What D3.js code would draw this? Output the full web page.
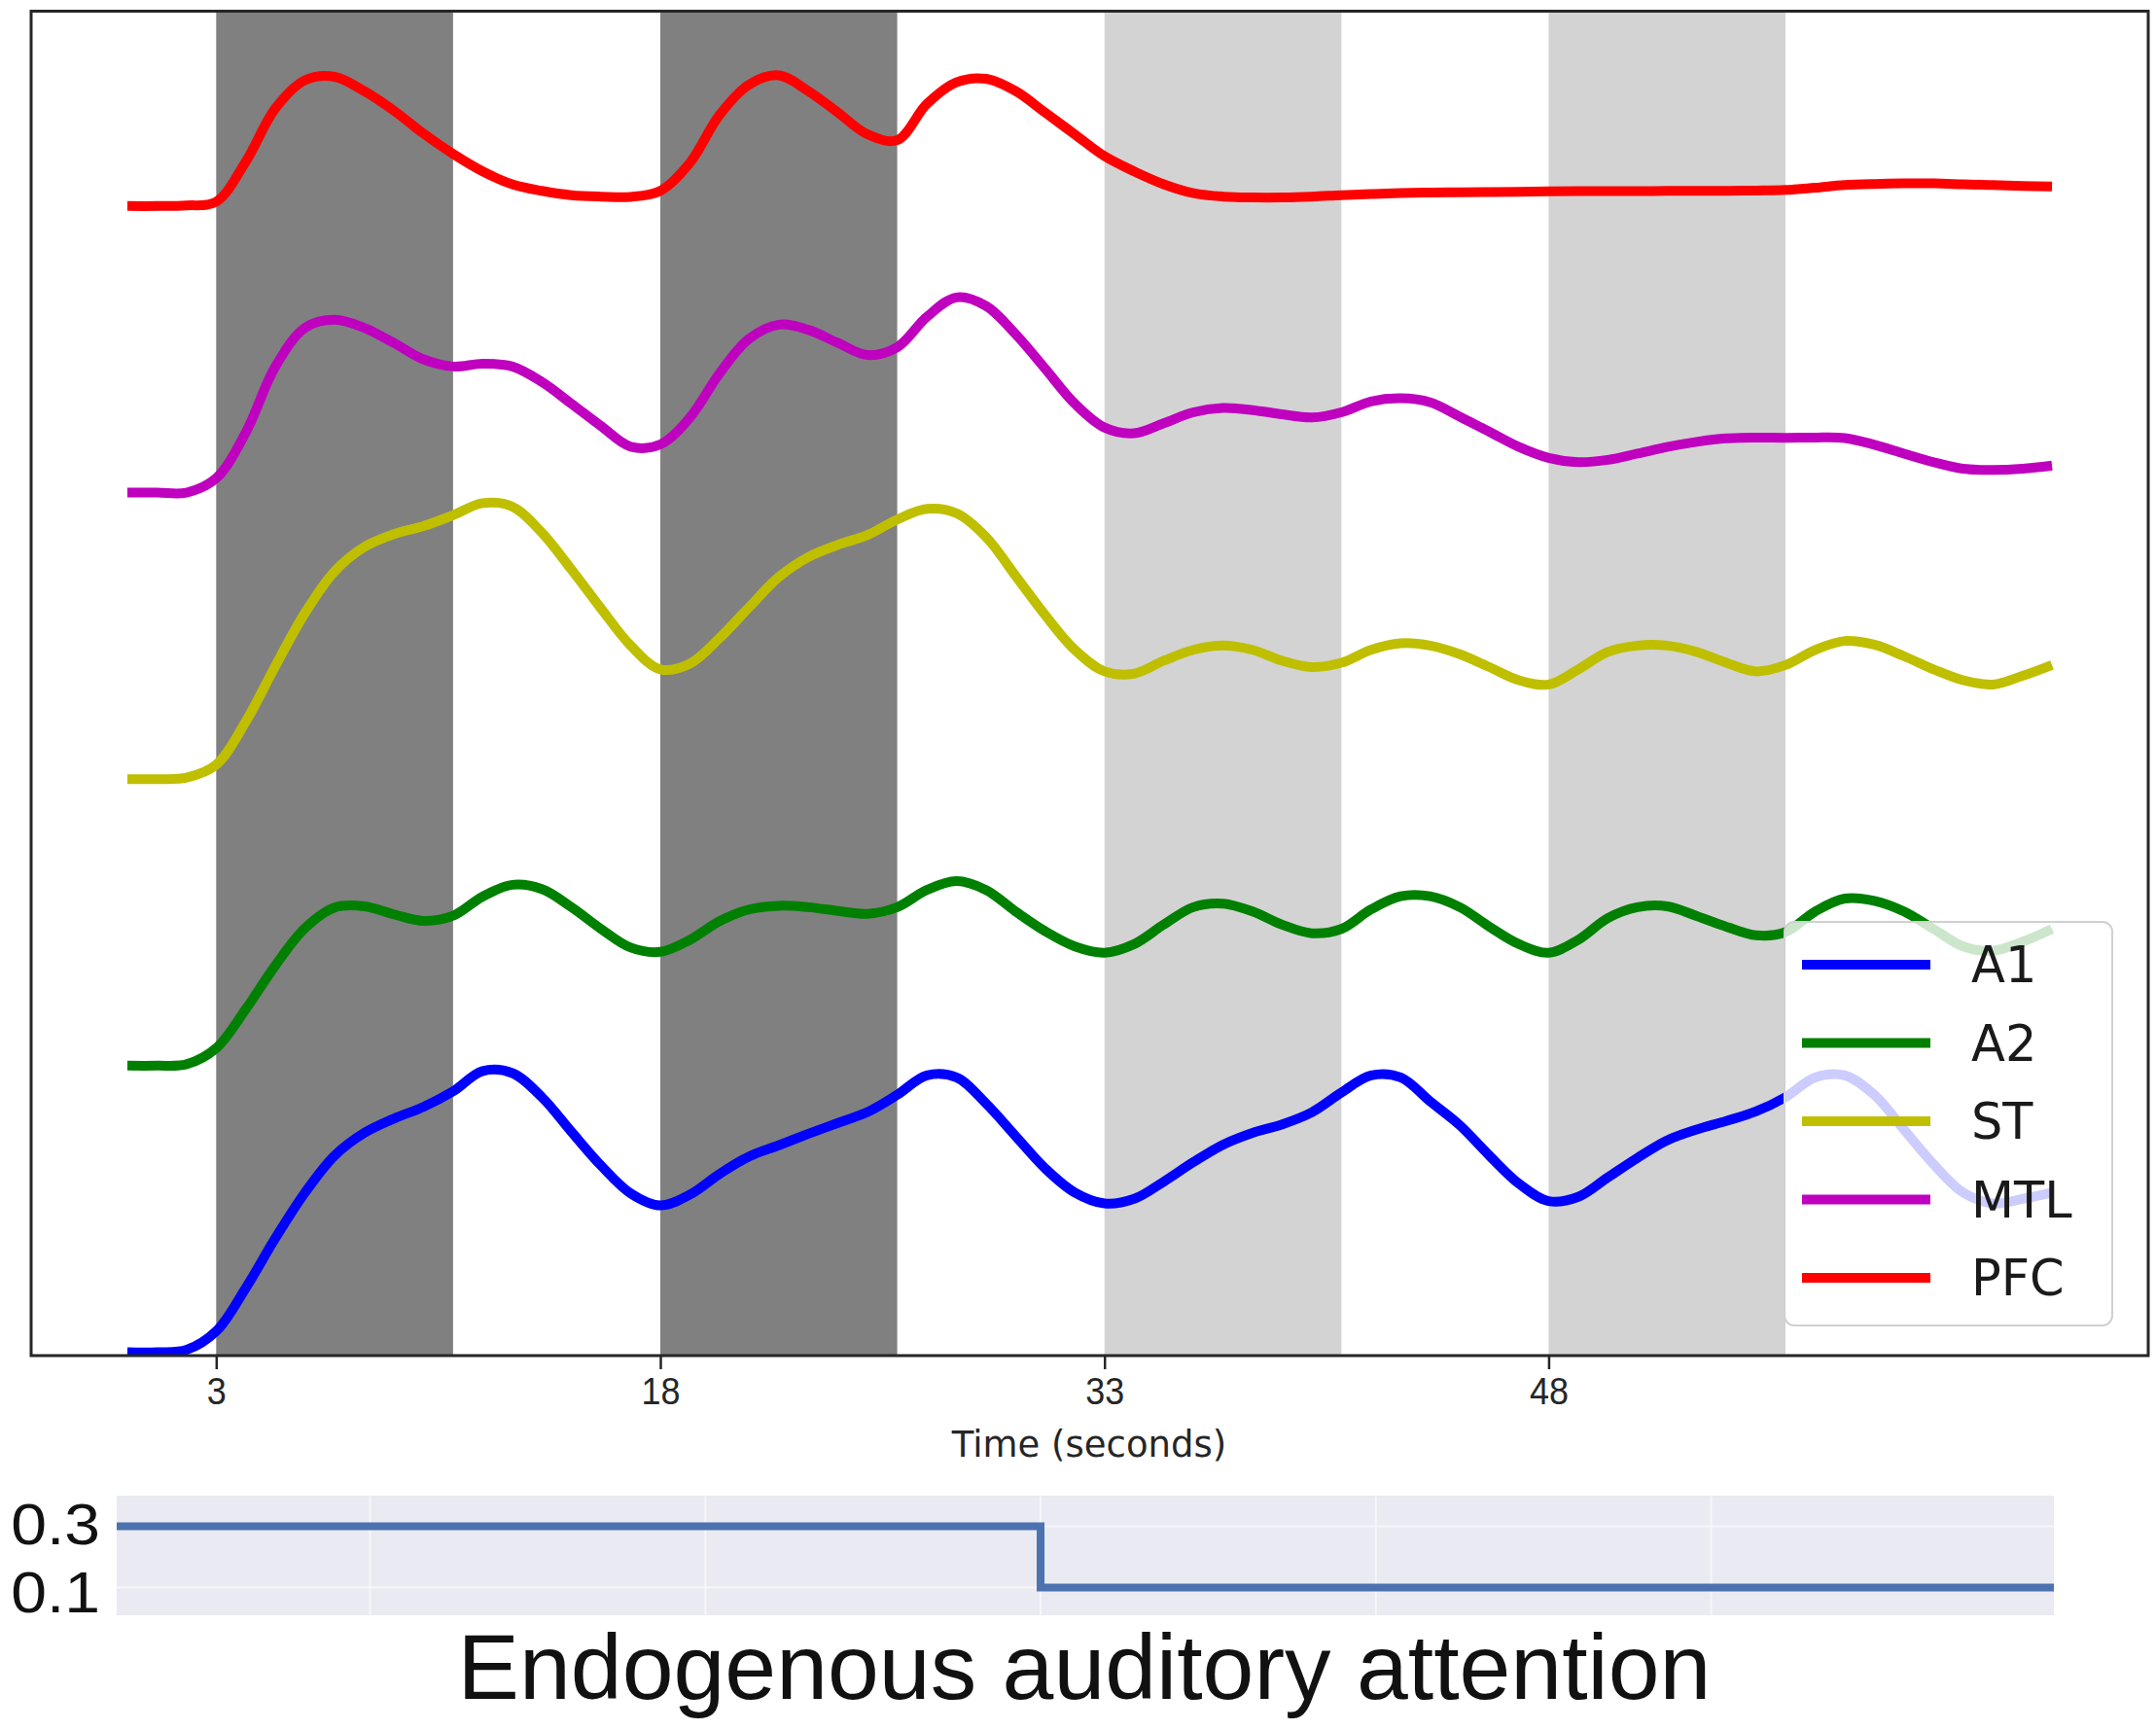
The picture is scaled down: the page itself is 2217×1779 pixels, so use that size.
<!DOCTYPE html>
<meta charset="utf-8">
<script src="https://d3js.org/d3.v7.min.js"></script>
<style>
  body { margin: 0; background: #fff; }
</style>
<div id="chart"></div>
<script>

// ---- data ----
var regions = ["A1", "A2", "ST", "MTL", "PFC"];
var regionColors = ["#0000ff", "#008000", "#bfbf00", "#bf00bf", "#ff0000"];
var offsets = [0, 1, 2, 3, 4];

// one sample per second, t = 0 .. 65
var time = d3.range(0, 66);

var a1 = [0, 0, 0.008, 0.073, 0.224, 0.398, 0.557, 0.686, 0.765, 0.815, 0.856, 0.910, 0.981, 0.974, 0.890, 0.769,
  0.651, 0.554, 0.512, 0.550, 0.622, 0.683, 0.722, 0.762, 0.800, 0.838, 0.898, 0.966, 0.959, 0.868, 0.754,
  0.641, 0.557, 0.519, 0.535, 0.595, 0.663, 0.724, 0.765, 0.795, 0.837, 0.906, 0.966, 0.959, 0.875, 0.792,
  0.686, 0.588, 0.527, 0.542, 0.610, 0.678, 0.739, 0.777, 0.807, 0.840, 0.890, 0.959, 0.966, 0.898, 0.777,
  0.656, 0.557, 0.519, 0.535, 0.557];

var a2 = [0, 0, 0.005, 0.061, 0.197, 0.350, 0.480, 0.552, 0.556, 0.528, 0.505, 0.523, 0.590, 0.631, 0.616, 0.553,
  0.477, 0.412, 0.397, 0.439, 0.504, 0.545, 0.558, 0.553, 0.540, 0.530, 0.553, 0.613, 0.644, 0.613, 0.538,
  0.469, 0.416, 0.394, 0.424, 0.492, 0.553, 0.565, 0.538, 0.492, 0.462, 0.477, 0.545, 0.591, 0.591, 0.553,
  0.485, 0.424, 0.394, 0.439, 0.515, 0.553, 0.556, 0.522, 0.485, 0.455, 0.466, 0.538, 0.583, 0.575, 0.538,
  0.477, 0.416, 0.401, 0.432, 0.477];

var st = [0, 0, 0.005, 0.050, 0.201, 0.395, 0.580, 0.725, 0.810, 0.855, 0.883, 0.921, 0.963, 0.951, 0.860, 0.731,
  0.595, 0.466, 0.383, 0.403, 0.492, 0.600, 0.705, 0.775, 0.818, 0.852, 0.906, 0.943, 0.928, 0.845, 0.709,
  0.572, 0.451, 0.376, 0.368, 0.413, 0.451, 0.466, 0.451, 0.413, 0.391, 0.406, 0.451, 0.474, 0.466, 0.436,
  0.391, 0.345, 0.330, 0.383, 0.444, 0.466, 0.466, 0.444, 0.406, 0.376, 0.398, 0.451, 0.482, 0.469, 0.429,
  0.383, 0.345, 0.330, 0.360, 0.398];

var mtl = [0, 0, 0, 0.050, 0.210, 0.440, 0.575, 0.603, 0.575, 0.522, 0.465, 0.440, 0.450, 0.440, 0.386, 0.310,
  0.232, 0.160, 0.168, 0.262, 0.416, 0.537, 0.586, 0.568, 0.522, 0.480, 0.507, 0.613, 0.681, 0.651, 0.553,
  0.432, 0.310, 0.227, 0.207, 0.242, 0.280, 0.295, 0.288, 0.273, 0.262, 0.280, 0.318, 0.329, 0.315, 0.265,
  0.212, 0.159, 0.121, 0.106, 0.114, 0.136, 0.159, 0.177, 0.189, 0.192, 0.191, 0.192, 0.190, 0.167, 0.136,
  0.106, 0.083, 0.079, 0.083, 0.094];

var pfc = [0, 0, 0.002, 0.015, 0.155, 0.341, 0.439, 0.451, 0.401, 0.333, 0.253, 0.182, 0.121, 0.076, 0.053, 0.038,
  0.033, 0.032, 0.053, 0.151, 0.318, 0.424, 0.456, 0.401, 0.326, 0.250, 0.230, 0.356, 0.432, 0.444, 0.401,
  0.326, 0.250, 0.174, 0.121, 0.076, 0.045, 0.033, 0.030, 0.030, 0.033, 0.038, 0.042, 0.045, 0.047, 0.048,
  0.049, 0.050, 0.051, 0.052, 0.052, 0.052, 0.053, 0.053, 0.053, 0.054, 0.056, 0.064, 0.073, 0.077, 0.079,
  0.079, 0.076, 0.073, 0.070, 0.068];

var seriesValues = [a1, a2, st, mtl, pfc];

// stimulus blocks (seconds)
var bandStart = [3, 18, 33, 48];
var bandEnd = [11, 26, 41, 56];
var bandColors = ["#808080", "#808080", "#d3d3d3", "#d3d3d3"];

var xTicks = [3, 18, 33, 48];

// attention strip
var attnTime = [0, 31, 65];
var attnValue = [0.3, 0.1, 0.1];
var attnYTicks = [0.1, 0.3];
var attnGrid = [8.5, 19.75, 31, 42.25, 53.5];

// ---- layout ----
var W = 2217, H = 1779;
var plot = {left: 32, right: 2209, top: 11.5, bottom: 1394};
var strip = {left: 120, right: 2112, top: 1538, bottom: 1661};

var svg = d3.select("#chart")
  .append("svg")
    .attr("width", W)
    .attr("height", H)
    .style("font-family", "'DejaVu Sans', sans-serif");

var x = d3.scaleLinear().domain([-3.25, 68.25]).range([plot.left, plot.right]);
var y = d3.scaleLinear().domain([-0.012, 4.68]).range([plot.bottom, plot.top]);

// background blocks
svg.selectAll("rect.band")
  .data(bandStart)
  .enter()
  .append("rect")
    .attr("class", "band")
    .attr("x", function(d) { return x(d); })
    .attr("y", plot.top)
    .attr("width", function(d, i) { return x(bandEnd[i]) - x(d); })
    .attr("height", plot.bottom - plot.top)
    .attr("fill", function(d, i) { return bandColors[i]; });

svg.append("clipPath").attr("id", "clip")
  .append("rect")
    .attr("x", plot.left).attr("y", plot.top)
    .attr("width", plot.right - plot.left).attr("height", plot.bottom - plot.top);

var line = d3.line()
  .x(function(d) { return x(d[0]); })
  .y(function(d) { return y(d[1]); })
  .curve(d3.curveCatmullRom.alpha(0.5));

svg.append("g")
  .attr("clip-path", "url(#clip)")
  .selectAll("path")
  .data(seriesValues)
  .enter()
  .append("path")
    .attr("fill", "none")
    .attr("stroke", function(d, i) { return regionColors[i]; })
    .attr("stroke-width", 10)
    .attr("stroke-linejoin", "round")
    .attr("d", function(vals, i) {
      return line(time.map(function(t, j) { return [t, vals[j] + offsets[i]]; }));
    });

// frame
svg.append("rect")
  .attr("x", plot.left).attr("y", plot.top)
  .attr("width", plot.right - plot.left).attr("height", plot.bottom - plot.top)
  .attr("fill", "none")
  .attr("stroke", "#262626")
  .attr("stroke-width", 3);

// x axis
var xAxis = svg.append("g")
  .attr("transform", "translate(0," + plot.bottom + ")")
  .call(d3.axisBottom(x).tickValues(xTicks).tickSize(14).tickPadding(8).tickFormat(d3.format("d")));
xAxis.select(".domain").remove();
xAxis.selectAll("line").attr("stroke", "#262626").attr("stroke-width", 2.5);
xAxis.selectAll("text")
  .attr("fill", "#262626")
  .style("font-size", "39px")
  .attr("textLength", function(d) { return String(d).length * 20; })
  .attr("lengthAdjust", "spacingAndGlyphs");

svg.append("text")
  .attr("x", 1120)
  .attr("y", 1498)
  .attr("text-anchor", "middle")
  .attr("fill", "#262626")
  .style("font-size", "37px")
  .text("Time (seconds)");

// legend
var legend = svg.append("g");
legend.append("rect")
  .attr("x", 1835).attr("y", 948)
  .attr("width", 337).attr("height", 415)
  .attr("rx", 10)
  .attr("fill", "#ffffff")
  .attr("fill-opacity", 0.8)
  .attr("stroke", "#d0d0d0")
  .attr("stroke-width", 2);

var rows = legend.selectAll("g.row")
  .data(regions)
  .enter()
  .append("g")
    .attr("class", "row")
    .attr("transform", function(d, i) { return "translate(0," + (992 + i * 80.5) + ")"; });
rows.append("line")
  .attr("x1", 1853).attr("x2", 1985)
  .attr("stroke", function(d, i) { return regionColors[i]; })
  .attr("stroke-width", 10);
rows.append("text")
  .attr("x", 2027)
  .attr("dy", "0.36em")
  .attr("fill", "#1a1a1a")
  .style("font-size", "51px")
  .text(function(d) { return d; });

// ---- attention strip ----
var xs = d3.scaleLinear().domain([0, 65]).range([strip.left, strip.right]);
var ys = d3.scaleLinear().domain([0, 0.4]).range([1664, strip.top]);

svg.append("rect")
  .attr("x", strip.left).attr("y", strip.top)
  .attr("width", strip.right - strip.left).attr("height", strip.bottom - strip.top)
  .attr("fill", "#eaeaf2");

svg.append("g").selectAll("line")
  .data(attnGrid)
  .enter()
  .append("line")
    .attr("x1", function(d) { return xs(d); }).attr("x2", function(d) { return xs(d); })
    .attr("y1", strip.top).attr("y2", strip.bottom)
    .attr("stroke", "#ffffff").attr("stroke-opacity", 0.55).attr("stroke-width", 2);

svg.append("g").selectAll("line")
  .data(attnYTicks)
  .enter()
  .append("line")
    .attr("x1", strip.left).attr("x2", strip.right)
    .attr("y1", function(d) { return ys(d); }).attr("y2", function(d) { return ys(d); })
    .attr("stroke", "#ffffff").attr("stroke-opacity", 0.55).attr("stroke-width", 2);

var stepLine = d3.line()
  .x(function(d) { return xs(d[0]); })
  .y(function(d) { return ys(d[1]); })
  .curve(d3.curveStepAfter);

svg.append("path")
  .attr("fill", "none")
  .attr("stroke", "#4c72b0")
  .attr("stroke-width", 8)
  .attr("d", stepLine(attnTime.map(function(t, i) { return [t, attnValue[i]]; })));

// y labels of the strip, pushed a little apart so they do not collide
svg.append("g").selectAll("text")
  .data(attnYTicks)
  .enter()
  .append("text")
    .attr("transform", function(d) {
      var yy = ys(d) + (d > 0.2 ? -3 : 4);
      return "translate(103," + yy + ") scale(1.12,1)";
    })
    .attr("dy", "0.36em")
    .attr("text-anchor", "end")
    .attr("fill", "#111")
    .style("font-family", "'Liberation Sans', Arial, sans-serif")
    .style("font-size", "59px")
    .text(function(d) { return d3.format(".1f")(d); });

svg.append("text")
  .attr("x", 1115)
  .attr("y", 1747)
  .attr("text-anchor", "middle")
  .attr("fill", "#111")
  .style("font-family", "'Liberation Sans', Arial, sans-serif")
  .style("font-size", "95px")
  .text("Endogenous auditory attention");

</script>
